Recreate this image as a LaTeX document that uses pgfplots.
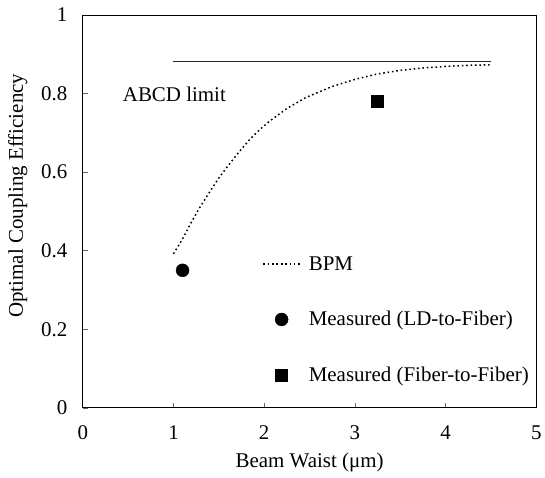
\documentclass[border=0pt]{standalone}
\usepackage{fontspec}
\setmainfont{Liberation Serif}
\usepackage{pgfplots}
\pgfplotsset{compat=1.18}

\pgfplotstableread{
x     y
1.00  0.392
1.10  0.430
1.20  0.474
1.29  0.510
1.40  0.550
1.50  0.585
1.58  0.610
1.70  0.645
1.84  0.683
1.95  0.708
2.05  0.728
2.25  0.762
2.46  0.790
2.75  0.818
3.00  0.836
3.23  0.849
3.50  0.859
3.75  0.865
4.00  0.869
4.25  0.872
4.50  0.873
}\bpm

\begin{document}
\begin{tikzpicture}[font=\fontsize{21}{25}\selectfont]
\begin{axis}[
  scale only axis,
  width=455pt, height=394pt,
  xmin=0, xmax=5, ymin=0, ymax=1,
  xtick={0,1,2,3,4,5},
  ytick={0,0.2,0.4,0.6,0.8,1},
  yticklabels={0,0.2,0.4,0.6,0.8,1},
  xtick pos=left, ytick pos=left,
  tick align=inside,
  major tick length=5pt,
  every tick/.style={black!60, line width=0.6pt},
  axis line style={black, line width=0.9pt},
  /pgf/number format/assume math mode=true,
  tick label style={font=\fontsize{21}{25}\selectfont},
  xticklabel style={yshift=-14pt},
  yticklabel style={xshift=-12pt},
  xlabel={Beam Waist (μm)},
  ylabel={Optimal Coupling Efficiency},
  label style={font=\fontsize{21}{25}\selectfont},
  xlabel style={at={(axis description cs:0.5,-0.14)}, anchor=center},
  ylabel style={at={(axis description cs:-0.143,0.54)}, anchor=center},
  legend style={at={(axis cs:1.978,0.386)}, anchor=north west, draw=none, fill=none,
    inner sep=0pt, row sep=40pt, column sep=8pt,
    font=\fontsize{21}{25}\selectfont,
    nodes={inner sep=0pt, anchor=west}},
  legend cell align=left,
  legend image code/.code={
    \draw[mark repeat=2, mark phase=2, #1] plot coordinates {(0pt,0pt) (18.5pt,0pt) (37pt,0pt)};
  },
  clip=false,
]
% ABCD limit
\addplot[black!85, line width=1.2pt, forget plot] coordinates {(1.0,0.881) (4.5,0.881)};
\node[anchor=west, inner sep=0pt] at (axis cs:0.44,0.797) {ABCD limit};
% BPM simulation
\addplot[black, line width=1.5pt, dash pattern=on 1.6pt off 2.8pt] table[x=x,y=y] {\bpm};
\addlegendentry{BPM}
% measurements
\addplot[only marks, mark=*, mark size=6.5pt, black] coordinates {(1.10,0.35)};
\addlegendentry{Measured (LD-to-Fiber)}
\addplot[only marks, mark=square*, mark size=6pt, black] coordinates {(3.24,0.78)};
\addlegendentry{Measured (Fiber-to-Fiber)}
\end{axis}
\path (current axis.south west) ++(-83pt,-70pt) coordinate (bl);
\path (current axis.north east) ++(7pt,15pt) coordinate (tr);
\path[use as bounding box] (bl) rectangle (tr);
\end{tikzpicture}
\end{document}
